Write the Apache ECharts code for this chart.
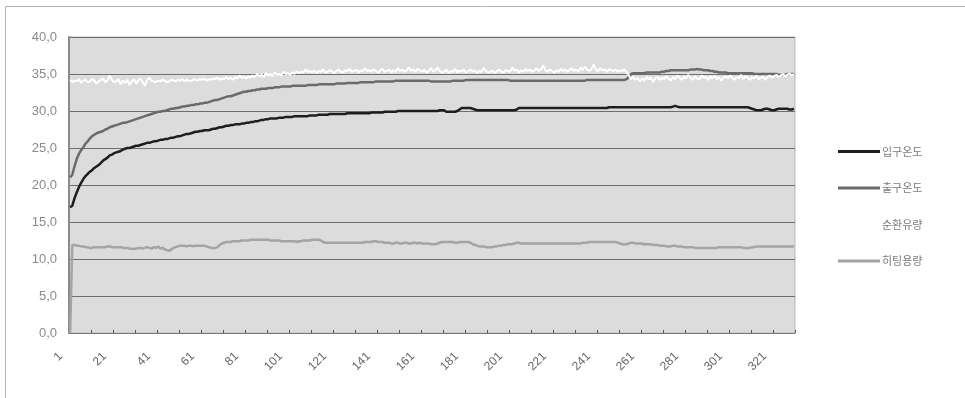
<!DOCTYPE html>
<html>
<head>
<meta charset="utf-8">
<script src="https://cdn.jsdelivr.net/npm/echarts@6/dist/echarts.min.js"></script>
<style>
html,body{margin:0;padding:0;background:#fff;}
#c{width:965px;height:398px;}
#err{position:absolute;left:100px;top:100px;color:red;font:12px sans-serif;}
</style>
</head>
<body>
<div id="c"></div>
<div id="err"></div>
<script>
window.onerror = function(m){ document.getElementById('err').textContent += ' ' + m; };
// ---- data ----
const seriesNames = ['입구온도', '출구온도', '순환유량', '히팅용량'];

const inletTemp = [
17.0,17.2,18.2,19.0,19.7,20.3,20.8,21.2,21.5,21.8,
22.0,22.3,22.5,22.7,23.0,23.3,23.5,23.7,24.0,24.1,
24.3,24.4,24.5,24.6,24.8,24.9,25.0,25.0,25.1,25.2,
25.3,25.3,25.4,25.5,25.6,25.7,25.7,25.8,25.9,25.9,
26.0,26.1,26.1,26.2,26.2,26.3,26.4,26.4,26.5,26.6,
26.6,26.7,26.8,26.9,26.9,27.0,27.1,27.2,27.2,27.3,
27.3,27.4,27.4,27.4,27.5,27.6,27.6,27.7,27.8,27.8,
27.9,28.0,28.0,28.1,28.1,28.2,28.2,28.2,28.3,28.3,
28.4,28.4,28.5,28.5,28.6,28.6,28.7,28.8,28.8,28.9,
28.9,29.0,29.0,29.0,29.0,29.1,29.1,29.1,29.2,29.2,
29.2,29.2,29.3,29.3,29.3,29.3,29.3,29.3,29.3,29.4,
29.4,29.4,29.4,29.5,29.5,29.5,29.5,29.5,29.6,29.6,
29.6,29.6,29.6,29.6,29.6,29.6,29.7,29.7,29.7,29.7,
29.7,29.7,29.7,29.7,29.7,29.7,29.7,29.8,29.8,29.8,
29.8,29.8,29.8,29.9,29.9,29.9,29.9,29.9,29.9,30.0,
30.0,30.0,30.0,30.0,30.0,30.0,30.0,30.0,30.0,30.0,
30.0,30.0,30.0,30.0,30.0,30.0,30.0,30.0,30.1,30.1,
30.1,29.9,29.9,29.9,29.9,29.9,30.0,30.2,30.4,30.4,
30.4,30.4,30.4,30.3,30.2,30.1,30.1,30.1,30.1,30.1,
30.1,30.1,30.1,30.1,30.1,30.1,30.1,30.1,30.1,30.1,
30.1,30.1,30.1,30.2,30.4,30.4,30.4,30.4,30.4,30.4,
30.4,30.4,30.4,30.4,30.4,30.4,30.4,30.4,30.4,30.4,
30.4,30.4,30.4,30.4,30.4,30.4,30.4,30.4,30.4,30.4,
30.4,30.4,30.4,30.4,30.4,30.4,30.4,30.4,30.4,30.4,
30.4,30.4,30.4,30.4,30.4,30.5,30.5,30.5,30.5,30.5,
30.5,30.5,30.5,30.5,30.5,30.5,30.5,30.5,30.5,30.5,
30.5,30.5,30.5,30.5,30.5,30.5,30.5,30.5,30.5,30.5,
30.5,30.5,30.5,30.5,30.6,30.7,30.6,30.5,30.5,30.5,
30.5,30.5,30.5,30.5,30.5,30.5,30.5,30.5,30.5,30.5,
30.5,30.5,30.5,30.5,30.5,30.5,30.5,30.5,30.5,30.5,
30.5,30.5,30.5,30.5,30.5,30.5,30.5,30.5,30.5,30.4,
30.3,30.2,30.1,30.1,30.1,30.2,30.3,30.3,30.2,30.1,
30.1,30.2,30.3,30.3,30.3,30.3,30.3,30.2,30.2,30.3
];

const outletTemp = [
21.0,21.4,22.5,23.5,24.2,24.7,25.1,25.6,25.9,26.3,
26.6,26.8,27.0,27.1,27.2,27.3,27.5,27.6,27.8,27.9,
28.0,28.1,28.2,28.3,28.4,28.4,28.5,28.6,28.7,28.8,
28.9,29.0,29.1,29.2,29.3,29.4,29.5,29.6,29.7,29.8,
29.9,29.9,30.0,30.0,30.1,30.2,30.3,30.3,30.4,30.4,
30.5,30.6,30.6,30.7,30.7,30.8,30.8,30.9,30.9,31.0,
31.0,31.1,31.1,31.2,31.3,31.4,31.5,31.5,31.6,31.7,
31.8,31.9,32.0,32.0,32.1,32.2,32.3,32.4,32.5,32.6,
32.6,32.7,32.7,32.8,32.8,32.9,32.9,33.0,33.0,33.0,
33.1,33.1,33.1,33.2,33.2,33.2,33.3,33.3,33.3,33.3,
33.3,33.4,33.4,33.4,33.4,33.4,33.4,33.4,33.5,33.5,
33.5,33.5,33.5,33.6,33.6,33.6,33.6,33.6,33.6,33.6,
33.6,33.7,33.7,33.7,33.7,33.7,33.8,33.8,33.8,33.8,
33.8,33.8,33.9,33.9,33.9,33.9,33.9,33.9,33.9,34.0,
34.0,34.0,34.0,34.0,34.0,34.0,34.0,34.0,34.1,34.1,
34.1,34.1,34.1,34.1,34.1,34.1,34.1,34.1,34.1,34.1,
34.1,34.1,34.1,34.1,34.0,34.0,34.0,34.0,34.0,34.0,
34.0,34.0,34.0,34.0,34.1,34.1,34.1,34.1,34.1,34.1,
34.2,34.2,34.2,34.2,34.2,34.2,34.2,34.2,34.2,34.2,
34.2,34.2,34.2,34.2,34.2,34.2,34.2,34.2,34.2,34.2,
34.1,34.1,34.1,34.1,34.1,34.1,34.1,34.1,34.1,34.1,
34.1,34.1,34.1,34.1,34.1,34.1,34.1,34.1,34.1,34.1,
34.1,34.1,34.1,34.1,34.1,34.1,34.1,34.1,34.1,34.1,
34.1,34.1,34.1,34.1,34.1,34.2,34.2,34.2,34.2,34.2,
34.2,34.2,34.2,34.2,34.2,34.2,34.2,34.2,34.2,34.2,
34.2,34.2,34.2,34.3,34.6,35.0,35.1,35.1,35.1,35.1,
35.1,35.1,35.2,35.2,35.2,35.2,35.2,35.2,35.2,35.3,
35.3,35.4,35.4,35.5,35.5,35.5,35.5,35.5,35.5,35.5,
35.5,35.5,35.6,35.6,35.6,35.7,35.6,35.6,35.5,35.5,
35.5,35.4,35.4,35.3,35.3,35.2,35.2,35.2,35.2,35.1,
35.1,35.1,35.1,35.1,35.1,35.1,35.1,35.1,35.1,35.1,
35.1,35.0,35.0,35.0,35.0,35.0,35.0,35.0,35.0,35.0,
35.0,35.0,34.9,34.9,34.9,34.9,35.0,35.0,35.0,35.0
];

const flowRate = [
34.2,33.9,34.1,34.0,34.3,33.8,34.1,34.2,33.9,34.0,
34.3,34.1,33.7,34.0,34.2,34.4,33.9,34.1,34.8,34.2,
33.9,34.0,34.3,33.6,34.1,33.8,34.2,33.5,34.0,34.3,
33.7,34.1,34.4,33.9,33.4,34.2,34.5,34.1,34.0,33.9,
34.1,34.0,34.2,34.1,33.9,34.0,34.2,34.1,34.0,34.2,
34.1,34.3,34.0,34.2,34.1,34.0,34.3,34.2,34.1,34.3,
34.2,34.4,34.1,34.3,34.2,34.4,34.3,34.5,34.2,34.4,
34.3,34.6,34.3,34.5,34.2,34.6,34.4,34.8,34.5,34.6,
34.4,34.7,34.5,34.8,34.6,35.0,34.7,34.9,34.6,35.1,
34.8,35.0,34.7,35.2,34.9,35.0,34.8,35.3,35.0,35.1,
34.9,35.2,35.0,35.4,35.1,35.3,35.2,35.6,35.3,35.4,
35.2,35.5,35.1,35.4,35.3,35.6,35.2,35.3,35.5,35.4,
35.1,35.4,35.6,35.3,35.2,35.5,35.4,35.7,35.3,35.4,
35.6,35.2,35.5,35.3,35.8,35.4,35.5,35.3,35.6,35.4,
35.2,35.5,35.7,35.3,35.4,35.6,35.2,35.5,35.3,35.8,
35.4,35.6,35.3,35.5,35.9,35.4,35.6,35.3,35.7,35.5,
35.3,35.6,35.2,35.4,35.8,35.3,35.5,35.9,35.4,35.2,
35.3,35.6,35.1,35.4,35.3,35.7,35.2,35.5,35.3,35.6,
35.2,35.4,35.6,35.3,35.5,35.1,35.4,35.3,35.8,35.4,
35.2,35.3,35.5,35.1,35.4,35.6,35.3,35.2,35.5,35.4,
35.3,35.9,35.4,35.6,35.2,35.5,35.3,35.7,35.4,35.6,
35.3,35.5,35.8,35.4,35.6,36.2,35.5,35.3,35.6,35.4,
35.2,35.5,35.3,35.7,35.4,35.6,35.3,35.5,35.8,35.4,
35.6,35.3,35.9,35.5,36.0,35.6,35.4,35.7,36.3,35.6,
35.4,35.8,35.5,35.6,35.3,35.7,35.5,35.4,35.6,35.3,
35.5,35.4,35.6,35.2,34.8,34.3,34.6,34.2,34.5,34.0,
34.4,34.1,34.6,34.3,34.5,33.9,34.4,34.6,34.2,34.5,
34.3,34.7,34.4,34.1,34.6,34.3,34.8,34.5,34.2,34.7,
34.4,34.9,34.5,34.2,34.7,34.4,34.3,34.8,34.5,34.6,
34.2,34.7,34.4,34.8,34.3,34.6,34.1,34.5,34.7,34.4,
34.8,34.5,34.2,34.6,34.4,34.9,34.3,34.7,34.5,34.2,
34.6,34.4,34.8,34.3,34.5,34.7,34.2,34.6,34.8,34.5,
34.7,34.9,34.6,34.8,35.0,34.7,34.9,35.1,34.8,35.0
];

const heatingCapacity = [
0,11.9,11.9,11.8,11.8,11.7,11.7,11.6,11.6,11.5,
11.5,11.6,11.6,11.6,11.6,11.6,11.6,11.7,11.7,11.6,
11.6,11.6,11.6,11.6,11.5,11.5,11.5,11.4,11.4,11.4,
11.4,11.5,11.5,11.4,11.5,11.6,11.5,11.4,11.6,11.5,
11.7,11.4,11.5,11.3,11.2,11.1,11.3,11.5,11.6,11.7,
11.8,11.8,11.8,11.7,11.8,11.8,11.7,11.8,11.8,11.8,
11.8,11.8,11.7,11.6,11.5,11.5,11.5,11.6,11.9,12.1,
12.2,12.3,12.3,12.3,12.4,12.4,12.4,12.4,12.5,12.5,
12.5,12.5,12.6,12.6,12.6,12.6,12.6,12.6,12.6,12.6,
12.6,12.5,12.5,12.5,12.5,12.5,12.4,12.4,12.4,12.4,
12.4,12.4,12.4,12.3,12.4,12.4,12.5,12.5,12.5,12.5,
12.6,12.6,12.6,12.6,12.5,12.3,12.2,12.2,12.2,12.2,
12.2,12.2,12.2,12.2,12.2,12.2,12.2,12.2,12.2,12.2,
12.2,12.2,12.2,12.2,12.3,12.3,12.3,12.3,12.4,12.4,
12.3,12.3,12.3,12.2,12.2,12.2,12.1,12.1,12.2,12.2,
12.1,12.1,12.2,12.2,12.1,12.1,12.2,12.2,12.1,12.2,
12.1,12.1,12.1,12.1,12.0,12.0,12.0,12.1,12.2,12.3,
12.3,12.3,12.3,12.3,12.3,12.2,12.2,12.3,12.3,12.3,
12.3,12.3,12.2,12.0,11.9,11.8,11.7,11.7,11.7,11.6,
11.6,11.6,11.6,11.7,11.7,11.8,11.8,11.9,11.9,12.0,
12.0,12.0,12.1,12.2,12.2,12.1,12.1,12.1,12.1,12.1,
12.1,12.1,12.1,12.1,12.1,12.1,12.1,12.1,12.1,12.1,
12.1,12.1,12.1,12.1,12.1,12.1,12.1,12.1,12.1,12.1,
12.1,12.1,12.1,12.2,12.2,12.2,12.3,12.3,12.3,12.3,
12.3,12.3,12.3,12.3,12.3,12.3,12.3,12.3,12.3,12.2,
12.1,12.0,12.0,12.0,12.1,12.2,12.2,12.1,12.1,12.1,
12.1,12.0,12.0,12.0,12.0,11.9,11.9,11.9,11.8,11.8,
11.8,11.7,11.7,11.7,11.8,11.8,11.7,11.7,11.7,11.6,
11.6,11.6,11.6,11.6,11.5,11.5,11.5,11.5,11.5,11.5,
11.5,11.5,11.5,11.5,11.5,11.6,11.6,11.6,11.6,11.6,
11.6,11.6,11.6,11.6,11.6,11.6,11.5,11.5,11.5,11.5,
11.6,11.6,11.7,11.7,11.7,11.7,11.7,11.7,11.7,11.7,
11.7,11.7,11.7,11.7,11.7,11.7,11.7,11.7,11.7,11.7
];

// category labels 1..N
const categories = inletTemp.map((_, i) => String(i + 1));
const yTickMin = 0, yTickMax = 40, yTickStep = 5;

const colors = ['#1e1e1e', '#6a6a6a', '#ffffff', '#a4a4a4'];
const values = [inletTemp, outletTemp, flowRate, heatingCapacity];

const chart = echarts.init(document.getElementById('c'), null, {renderer: 'canvas'});
chart.setOption({
  animation: false,
  backgroundColor: '#ffffff',
  graphic: [{
    type: 'rect', silent: true, z: -10,
    shape: {x: 5.5, y: 6.5, width: 966, height: 400},
    style: {fill: 'none', stroke: '#b4b4b4', lineWidth: 1}
  }],
  grid: {
    left: 69, right: 170, top: 37, bottom: 65,
    show: true, backgroundColor: '#dcdcdc', borderColor: '#b8b8b8', borderWidth: 1,
    containLabel: false
  },
  legend: {
    orient: 'vertical',
    left: 833, top: 141,
    itemGap: 25.5,
    itemWidth: 42, itemHeight: 3,
    icon: 'rect',
    data: seriesNames,
    textStyle: {color: '#7a7a7a', fontSize: 11, fontFamily: 'Noto Sans CJK KR', padding: [0,0,0,-3]}
  },
  xAxis: {
    type: 'category',
    data: categories,
    boundaryGap: true,
    axisLine: {show: true, lineStyle: {color: '#7a7a7a', width: 1}},
    axisTick: {show: true, inside: true, interval: 9, length: 3, lineStyle: {color: '#555'}},
    axisLabel: {
      interval: 19, rotate: 45, color: '#666', fontSize: 12,
      fontFamily: 'Liberation Sans', margin: 12,
      formatter: v => v + '    '
    },
    splitLine: {show: false}
  },
  yAxis: {
    type: 'value',
    min: yTickMin, max: yTickMax, interval: yTickStep,
    axisLine: {show: true, lineStyle: {color: '#8a8a8a', width: 2}},
    axisTick: {show: false},
    axisLabel: {
      color: '#8a8a8a', fontSize: 13, fontFamily: 'Liberation Sans', margin: 12,
      formatter: v => v.toFixed(1).replace('.', ',')
    },
    splitLine: {show: true, lineStyle: {color: '#6e6e6e', width: 1}}
  },
  series: seriesNames.map((name, k) => ({
    name: name,
    type: 'line',
    data: values[k],
    symbol: 'none',
    smooth: false,
    color: colors[k],
    lineStyle: {color: colors[k], width: k === 2 ? 2 : 2.5},
    z: 2 + k
  }))
});
</script>
</body>
</html>
